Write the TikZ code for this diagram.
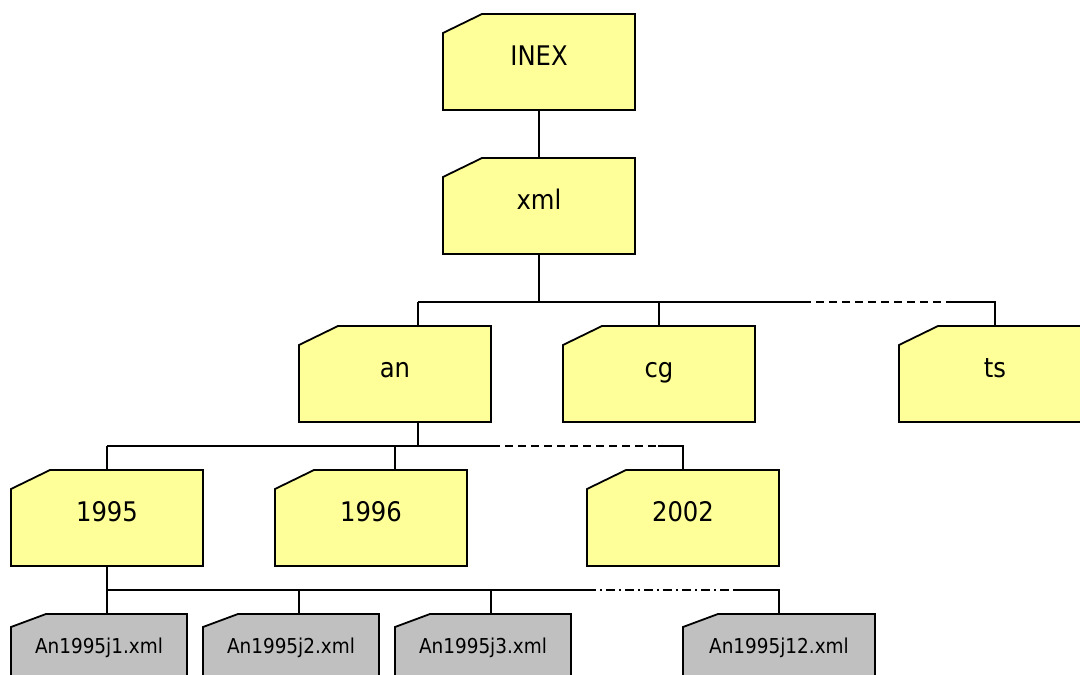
\documentclass[tikz,border=0pt]{standalone}
\usepackage{fontspec}
\setmainfont{DejaVu Sans Condensed}
\usetikzlibrary{backgrounds}
\definecolor{folderfill}{HTML}{FFFF99}
\definecolor{filefill}{HTML}{C0C0C0}
\tikzset{
  box/.style={rectangle, inner sep=0pt, outer sep=0pt},
  folder/.style={box, minimum width=192pt, minimum height=96pt,
    font=\fontsize{27}{27}\selectfont, text height=6pt, text depth=0pt},
  file/.style={box, minimum width=176pt, minimum height=96pt,
    font=\fontsize{20.5}{20.5}\selectfont, text height=0pt, text depth=18pt},
  outline/.style={draw=black, line width=1.8pt, line join=miter},
  link/.style={line width=1.8pt},
  gap/.style={link, dash pattern=on 8pt off 5pt},
  gapdot/.style={link, dash pattern=on 9pt off 4pt on 2pt off 4pt},
}
% outline of a node with its top-left corner cut off: name, fill, cut width, cut height
\newcommand\cutbox[4]{%
  \draw[outline, fill=#2] ([xshift=#3]#1.north west) -- (#1.north east)
    -- (#1.south east) -- (#1.south west) -- ([yshift=-#4]#1.north west) -- cycle;}
\begin{document}
\begin{tikzpicture}[x=1pt, y=-1pt]
\begin{pgfonlayer}{background}
  \fill[white] (0,0) rectangle (1080,675);
\end{pgfonlayer}
\useasboundingbox (0,0) rectangle (1080,675);

% directory levels
\node[folder] (inex) at (539,62) {INEX};
\node[folder] (xml) at (539,206) {xml};
\node[folder] (an) at (395,374) {an};
\node[folder] (cg) at (659,374) {cg};
\node[folder] (ts) at (995,374) {ts};
\node[folder] (y1995) at (107,518) {1995};
\node[folder] (y1996) at (371,518) {1996};
\node[folder] (y2002) at (683,518) {2002};

% files
\node[file] (f1) at (99,662) {An1995j1.xml};
\node[file] (f2) at (291,662) {An1995j2.xml};
\node[file] (f3) at (483,662) {An1995j3.xml};
\node[file, minimum width=192pt] (f12) at (779,662) {An1995j12.xml};

\begin{pgfonlayer}{background}
  \foreach \n in {inex,xml,an,cg,ts,y1995,y1996,y2002} {\cutbox{\n}{folderfill}{39pt}{19pt}}
  \foreach \n in {f1,f2,f3,f12} {\cutbox{\n}{filefill}{35pt}{13pt}}
\end{pgfonlayer}

% INEX -> xml
\draw[link] (inex) -- (xml);

% xml -> an, cg, ..., ts
\coordinate (b1) at (539,302);
\coordinate (b1l) at (418,302);
\coordinate (b1s) at (803,302);
\coordinate (b1e) at (947,302);
\draw[link] (xml.south) -- (b1);
\draw[link] (b1l) -- (b1s);
\draw[gap] (b1s) -- (b1e);
\draw[link] (b1e) -| (ts.north);
\draw[link] (b1l) -- (b1l |- an.north);
\draw[link] (b1 -| cg) -- (cg.north);

% an -> 1995, 1996, ..., 2002
\coordinate (b2) at (418,446);
\coordinate (b2l) at (107,446);
\coordinate (b2m) at (395,446);
\coordinate (b2s) at (492,446);
\coordinate (b2e) at (658,446);
\draw[link] (b2 |- an.south) -- (b2);
\draw[link] (b2l) -- (b2s);
\draw[gap] (b2s) -- (b2e);
\draw[link] (b2e) -| (y2002.north);
\draw[link] (b2l) -- (y1995.north);
\draw[link] (b2m) -- (b2m |- y1996.north);

% 1995 -> files
\coordinate (b3l) at (107,590);
\coordinate (b3a) at (299,590);
\coordinate (b3b) at (491,590);
\coordinate (b3s) at (587,590);
\coordinate (b3e) at (733,590);
\draw[link] (y1995.south) -- (b3l);
\draw[link] (b3l) -- (b3s);
\draw[gapdot] (b3s) -- (b3e);
\draw[link] (b3e) -| (f12.north);
\draw[link] (b3l) -- (b3l |- f1.north);
\draw[link] (b3a) -- (b3a |- f2.north);
\draw[link] (b3b) -- (b3b |- f3.north);
\end{tikzpicture}
\end{document}
